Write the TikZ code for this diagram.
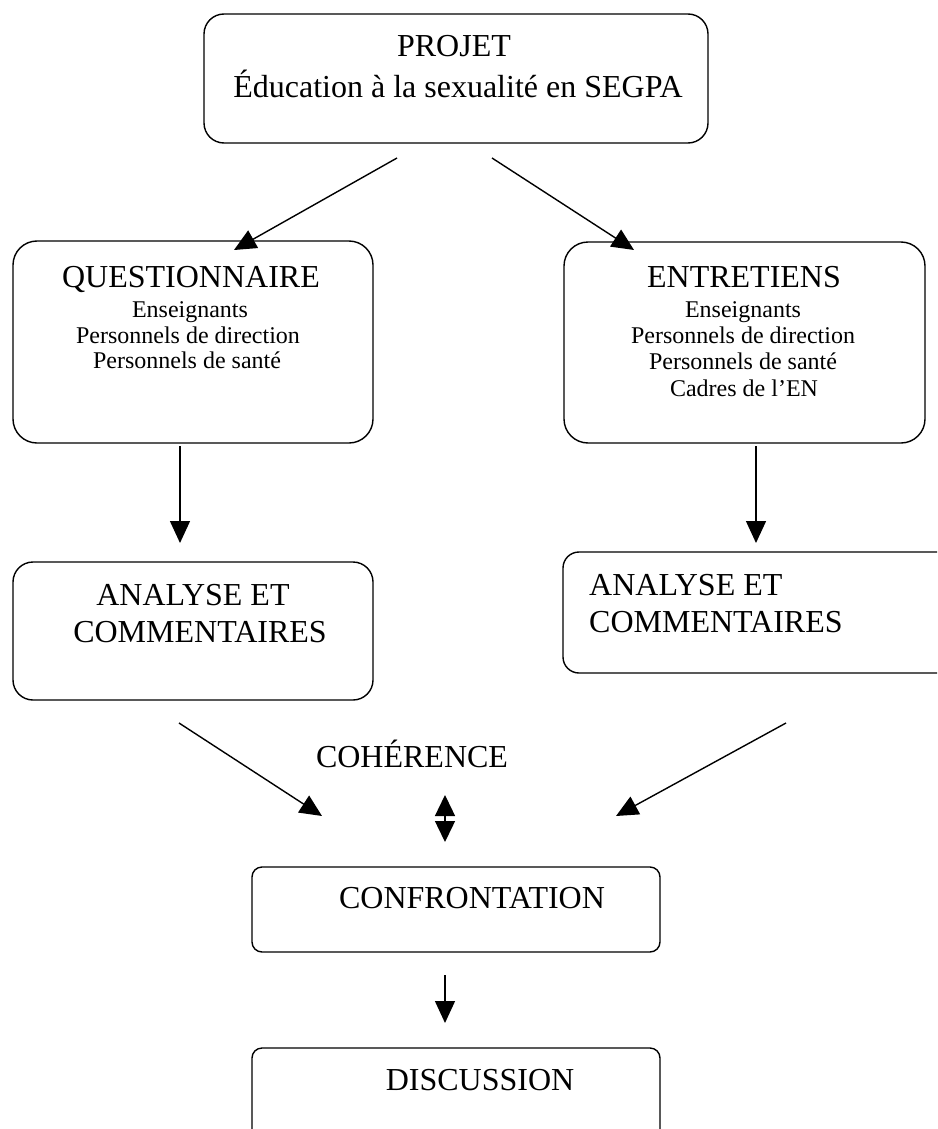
\documentclass[tikz,border=0pt]{standalone}
\usepackage{fontspec}
\setmainfont{Liberation Serif}
\usetikzlibrary{arrows.meta}
\tikzset{
  box/.style={draw, line width=1.4pt, inner sep=0pt, rounded corners=#1},
  big/.style={font=\fontsize{32}{37}\selectfont, inner sep=0pt, anchor=base},
  small/.style={font=\fontsize{24}{26}\selectfont, inner sep=0pt, anchor=base},
  arr/.style={line width=1.4pt, -{Triangle[length=22pt,width=20pt]}},
  darr/.style={line width=1.4pt, {Triangle[length=21pt,width=20pt]}-{Triangle[length=21pt,width=20pt]}}
}
\begin{document}
\begin{tikzpicture}[x=1pt,y=-1pt]
\useasboundingbox (0,0) rectangle (937,1129);
\clip (0,0) rectangle (937,1129);
% boxes
\node[box=20pt, minimum width=504pt, minimum height=129pt] (proj) at (456,78.5) {};
\node[box=24pt, minimum width=360pt, minimum height=202pt] (quest) at (193,342) {};
\node[box=24pt, minimum width=361pt, minimum height=201pt] (entr) at (744.5,342.5) {};
\node[box=20pt, minimum width=360pt, minimum height=138pt] (anl) at (193,631) {};
\node[box=16pt, minimum width=397pt, minimum height=121pt] (anr) at (761.5,612.5) {};
\node[box=10pt, minimum width=408pt, minimum height=85pt] (conf) at (456,909.5) {};
\node[box=10pt, minimum width=408pt, minimum height=102pt] (disc) at (456,1099) {};
% texts
\node[big] (tproj1) at (454,57) {PROJET};
\node[big] (tproj2) at (458,98) {Éducation à la sexualité en SEGPA};
\node[big] (tq) at (191,287) {QUESTIONNAIRE};
\node[small] (tq1) at (190,317) {Enseignants};
\node[small] (tq2) at (188,343) {Personnels de direction};
\node[small] (tq3) at (187,368) {Personnels de santé};
\node[big] (te) at (744,287) {ENTRETIENS};
\node[small] (te1) at (743,317) {Enseignants};
\node[small] (te2) at (743,343) {Personnels de direction};
\node[small] (te3) at (743,369) {Personnels de santé};
\node[small] (te4) at (744,396) {Cadres de l’EN};
\node[big] (tal1) at (193,605) {ANALYSE ET};
\node[big] (tal2) at (200,642) {COMMENTAIRES};
\node[big, anchor=base west] (tar1) at (589,595) {ANALYSE ET};
\node[big, anchor=base west] (tar2) at (589,632) {COMMENTAIRES};
\node[big] (coh) at (412,767) {COHÉRENCE};
\node[big] (tconf) at (472,908) {CONFRONTATION};
\node[big] (tdisc) at (480,1090) {DISCUSSION};
% arrow end points
\coordinate (a1s) at (397,158); \coordinate (a1e) at (234,250);
\coordinate (a2s) at (492,158); \coordinate (a2e) at (634,250);
\coordinate (a3s) at (180,446); \coordinate (a3e) at (180,543);
\coordinate (a4s) at (756,446); \coordinate (a4e) at (756,543);
\coordinate (a5s) at (179,723); \coordinate (a5e) at (322,816);
\coordinate (a6s) at (786,723); \coordinate (a6e) at (616,816);
\coordinate (a7s) at (445,795); \coordinate (a7e) at (445,842);
\coordinate (a8s) at (445,975); \coordinate (a8e) at (445,1023);
% arrows
\draw[arr] (a1s) -- (a1e);
\draw[arr] (a2s) -- (a2e);
\draw[arr] (a3s) -- (a3e);
\draw[arr] (a4s) -- (a4e);
\draw[arr] (a5s) -- (a5e);
\draw[arr] (a6s) -- (a6e);
\draw[darr] (a7s) -- (a7e);
\draw[arr] (a8s) -- (a8e);
\end{tikzpicture}
\end{document}
